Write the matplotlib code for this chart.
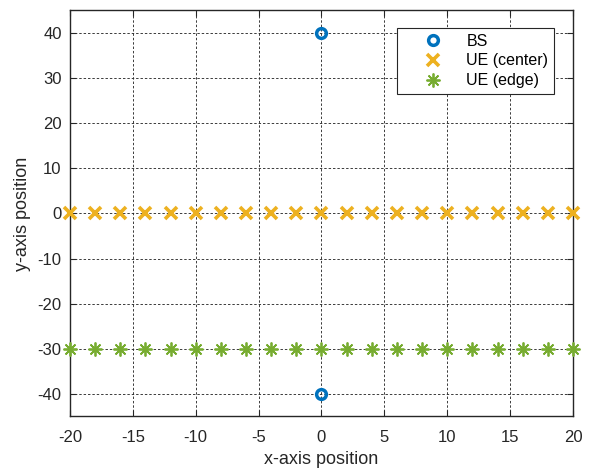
import numpy as np
import matplotlib.pyplot as plt

plt.rcParams['font.family'] = ['Liberation Sans', 'DejaVu Sans']
plt.rcParams['axes.unicode_minus'] = False

# node positions
bs_x = [0, 0]
bs_y = [40, -40]
ue_center_x = [-20, -18, -16, -14, -12, -10, -8, -6, -4, -2, 0, 2, 4, 6, 8, 10, 12, 14, 16, 18, 20]
ue_center_y = [0] * len(ue_center_x)
ue_edge_x = [-20, -18, -16, -14, -12, -10, -8, -6, -4, -2, 0, 2, 4, 6, 8, 10, 12, 14, 16, 18, 20]
ue_edge_y = [-30] * len(ue_edge_x)

x_ticks = [-20, -15, -10, -5, 0, 5, 10, 15, 20]
y_ticks = [-40, -30, -20, -10, 0, 10, 20, 30, 40]

fig = plt.figure(figsize=(5.94, 4.69), dpi=100)
ax = fig.add_axes([0.1178, 0.112, 0.8468, 0.8657])

ax.plot(bs_x, bs_y, linestyle='none', marker='o', markersize=7, markeredgewidth=2.5,
        markerfacecolor='none', markeredgecolor='#0072BD', label='BS', clip_on=False, zorder=3)
ax.plot(ue_center_x, ue_center_y, linestyle='none', marker='x', markersize=9, markeredgewidth=2.6,
        color='#EDB120', label='UE (center)', clip_on=False, zorder=3)
ax.plot(ue_edge_x, ue_edge_y, linestyle='none', marker=(8, 2, 0), markersize=10, markeredgewidth=1.3,
        color='#77AC30', label='UE (edge)', clip_on=False, zorder=3)

ax.set_xlim(-20, 20)
ax.set_ylim(-45, 45)
ax.set_xticks(x_ticks)
ax.set_yticks(y_ticks)
ax.tick_params(direction='in', labelsize=12, length=4, colors='#262626', top=True, right=True)
ax.tick_params(axis='x', pad=10)
ax.tick_params(axis='y', pad=6)
ax.grid(True, color='#262626', linestyle=(0, (2.5, 2)), linewidth=0.7, alpha=0.9)
for s in ax.spines.values():
    s.set_color('#262626')
    s.set_linewidth(1)

ax.set_xlabel('x-axis position', fontsize=13, color='#262626', labelpad=4)
ax.set_ylabel('y-axis position', fontsize=13, color='#262626', labelpad=5)

leg = ax.legend(loc='upper right', bbox_to_anchor=(0.962, 0.957), fontsize=11.5, fancybox=False,
                edgecolor='#262626', framealpha=1, borderaxespad=0, handlelength=3.8,
                handletextpad=0.2, borderpad=0.35, labelspacing=0.3)
leg.get_frame().set_linewidth(0.8)

fig.savefig('out.png', dpi=100)
